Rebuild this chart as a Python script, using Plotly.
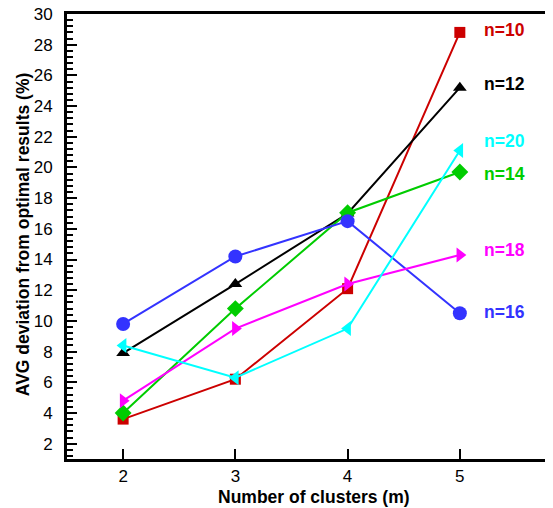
import plotly.graph_objects as go

clusters = [2, 3, 4, 5]
series_names = ["n=10", "n=12", "n=14", "n=16", "n=18", "n=20"]
n10 = [3.6, 6.2, 12.1, 28.8]
n12 = [7.9, 12.4, 17.0, 25.2]
n14 = [4.0, 10.8, 17.05, 19.7]
n16 = [9.8, 14.2, 16.5, 10.5]
n18 = [4.8, 9.5, 12.4, 14.3]
n20 = [8.4, 6.3, 9.5, 21.1]
values = [n10, n12, n14, n16, n18, n20]

colors = ["#CC0000", "#000000", "#00CC00", "#3333FF", "#FF00FF", "#00FFFF"]
symbols = ["square", "triangle-up", "diamond", "circle", "triangle-right", "triangle-left"]
sizes = [11, 12, 13, 14, 13, 13]
label_y = [28.95, 25.45, 19.6, 10.55, 14.6, 21.75]

FONT = "Liberation Sans, Arial, sans-serif"

fig = go.Figure()
for name, ys, c, s, sz in zip(series_names, values, colors, symbols, sizes):
    fig.add_trace(go.Scatter(
        x=clusters, y=ys, mode="lines+markers", name=name,
        line=dict(color=c, width=2),
        marker=dict(symbol=s, size=sz, color=c, line=dict(width=0)),
        showlegend=False,
    ))

for name, c, ly in zip(series_names, colors, label_y):
    fig.add_annotation(x=5.2, y=ly, xref="x", yref="y", text="<b>%s</b>" % name,
                       showarrow=False, xanchor="left", yanchor="middle",
                       font=dict(family=FONT, size=17.5, color=c))

# axis titles
fig.add_annotation(x=-0.0905, y=0.503, xref="paper", yref="paper",
                   text="<b>AVG deviation from optimal results (%)</b>",
                   showarrow=False, textangle=-90, xanchor="center", yanchor="middle",
                   font=dict(family=FONT, size=17.5, color="#000"))
fig.add_annotation(x=0.508, y=-0.086, xref="paper", yref="paper",
                   text="<b>Number of clusters (m)</b>",
                   showarrow=False, xanchor="center", yanchor="middle",
                   font=dict(family=FONT, size=17.5, color="#000"))

fig.update_layout(
    width=545, height=500,
    margin=dict(l=59, r=0, t=6, b=49, autoexpand=False),
    paper_bgcolor="white", plot_bgcolor="white",
    font=dict(family=FONT, size=17, color="#000"),
    xaxis=dict(
        range=[1.5, 5.83], tickvals=clusters, ticktext=[str(v) for v in clusters],
        ticks="inside", ticklen=10, tickwidth=2, tickcolor="#000",
        showline=True, linewidth=3, linecolor="#000", mirror=True,
        showgrid=False, zeroline=False, ticklabelstandoff=0,
        tickfont=dict(size=17),
    ),
    yaxis=dict(
        range=[1, 30], dtick=2, tick0=0,
        ticks="inside", ticklen=10, tickwidth=2, tickcolor="#000",
        showline=True, linewidth=3, linecolor="#000", mirror=False,
        showgrid=False, zeroline=False, ticklabelstandoff=8,
        ticklabeloverflow="allow",
        minor=dict(dtick=0.4, tick0=0, ticks="inside", ticklen=6, tickwidth=1.5, tickcolor="#000", showgrid=False),
        tickfont=dict(size=17),
    ),
)

fig.write_html("out.html")
